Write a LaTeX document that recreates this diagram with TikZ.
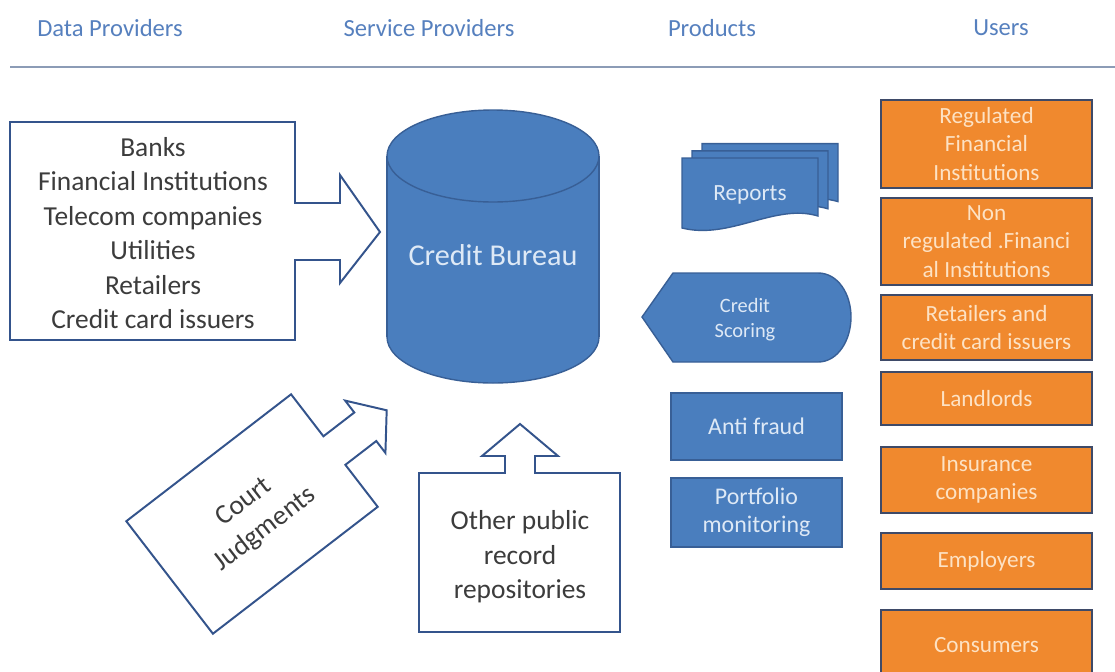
\documentclass[tikz,border=0pt]{standalone}
\usepackage{fontspec}
\setmainfont{Carlito}
\definecolor{headblue}{RGB}{86,128,190}
\definecolor{rulegray}{RGB}{140,156,182}
\definecolor{lineblue}{RGB}{52,84,140}
\definecolor{textgray}{RGB}{60,60,60}
\definecolor{bluefill}{RGB}{74,126,190}
\definecolor{bluedark}{RGB}{56,95,150}
\definecolor{bluetext}{RGB}{222,233,246}
\definecolor{orangefill}{RGB}{240,137,46}
\definecolor{slate}{RGB}{62,74,104}
\definecolor{peach}{RGB}{253,226,196}
\begin{document}
\begin{tikzpicture}[x=0.025cm, y=-0.025cm,
    head/.style={text=headblue, font=\fontsize{17.5}{21}\selectfont},
    callout/.style={draw=lineblue, line width=1.4pt, fill=white},
    dark/.style={text=textgray, align=center, font=\fontsize{19.5}{24.5}\selectfont},
    bshape/.style={draw=bluedark, line width=1pt, fill=bluefill},
    btext/.style={text=bluetext, align=center},
    ubox/.style={draw=slate, line width=1.4pt, fill=orangefill, text=peach, align=center,
        minimum width=5.275cm, inner sep=0pt, font=\fontsize{16.5}{20.5}\selectfont}]
    \useasboundingbox (0,0) rectangle (1115,671);
    \clip (0,0) rectangle (1115,671);

    % headings
    \node (h1) at (110, 28) [head] {Data Providers};
    \node (h2) at (429, 28) [head] {Service Providers};
    \node (h3) at (712, 28) [head] {Products};
    \node (h4) at (1001, 28) [head] {Users};
    \draw[rulegray, line width=1.5pt] (10,67) -- (1115,67);

    % data providers
    \draw[callout] (10,122) -- (295,122) -- (295,203) -- (340,203) -- (340,175) -- (380,232)
        -- (340,283) -- (340,260) -- (295,260) -- (295,340) -- (10,340) -- cycle;
    \node (dp) at (153, 233) [dark] {Banks\\Financial Institutions\\Telecom companies\\Utilities\\Retailers\\Credit card issuers};

    \begin{scope}[shift={(252,514)}, rotate=37.6]
        \draw[callout] (-104,-71) -- (104,-71) -- (104,-18) -- (143,-18) -- (143,-33) -- (170,0)
            -- (143,33) -- (143,18) -- (104,18) -- (104,71) -- (-104,71) -- cycle;
    \end{scope}
    \node (cj) at (255, 516) [dark, rotate=37.6] {Court\\Judgments};

    \draw[callout] (419,473) -- (505,473) -- (505,456) -- (482,456) -- (520,424) -- (558,456)
        -- (535,456) -- (535,473) -- (620,473) -- (620,632) -- (419,632) -- cycle;
    \node (op) at (520, 557) [dark] {Other public\\record\\repositories};

    % credit bureau
    \fill[bluefill] (387,156) rectangle (599,337);
    \fill[bluefill] (493,337) ellipse (106 and 46);
    \begin{scope}
        \clip (380,337) rectangle (610,395);
        \draw[bluedark, line width=1pt] (493,337) ellipse (106 and 46);
    \end{scope}
    \draw[bluedark, line width=1pt] (387,156) -- (387,337) (599,156) -- (599,337);
    \filldraw[bshape] (493,156) ellipse (106 and 46);
    \node (cb) at (493, 255) [btext, font=\fontsize{21.5}{26}\selectfont] {Credit Bureau};

    % products
    \foreach \d in {20,10,0}
        \draw[bshape, shift={(\d,-0.72*\d)}] (682,158) -- (818,158) -- (818,216)
            .. controls (775,203) and (730,240) .. (682,228) -- cycle;
    \node (rp) at (750, 195) [btext, font=\fontsize{16.5}{20}\selectfont] {Reports};

    \draw[bshape] (642,317) -- (673,273) -- (818,273) .. controls (838,273) and (851,294) .. (851,317)
        .. controls (851,340) and (838,362) .. (818,362) -- (673,362) -- cycle;
    \node (cs) at (745, 320) [btext, font=\fontsize{14.5}{18}\selectfont] {Credit\\Scoring};

    \node (af) at (756.5, 426.5) [bshape, btext, minimum width=4.275cm, minimum height=1.675cm,
        font=\fontsize{17}{20}\selectfont] {Anti fraud};
    \node (pm) at (756.5, 512.5) [bshape, btext, minimum width=4.275cm, minimum height=1.725cm,
        font=\fontsize{17}{20}\selectfont] {Portfolio\\monitoring};

    % users
    \node (u1) at (986.5, 144) [ubox, minimum height=2.2cm] {Regulated\\Financial\\Institutions};
    \node (u2) at (986.5, 241.5) [ubox, minimum height=2.175cm] {Non\\regulated .Financi\\al Institutions};
    \node (u3) at (986.5, 327.5) [ubox, minimum height=1.625cm] {Retailers and\\credit card issuers};
    \node (u4) at (986.5, 398.5) [ubox, minimum height=1.325cm] {Landlords};
    \node (u5) at (986.5, 480) [ubox, minimum height=1.65cm] {Insurance\\companies};
    \node (u6) at (986.5, 561) [ubox, minimum height=1.4cm] {Employers};
    \node (u7) at (986.5, 645) [ubox, minimum height=1.75cm] {Consumers};
\end{tikzpicture}
\end{document}
